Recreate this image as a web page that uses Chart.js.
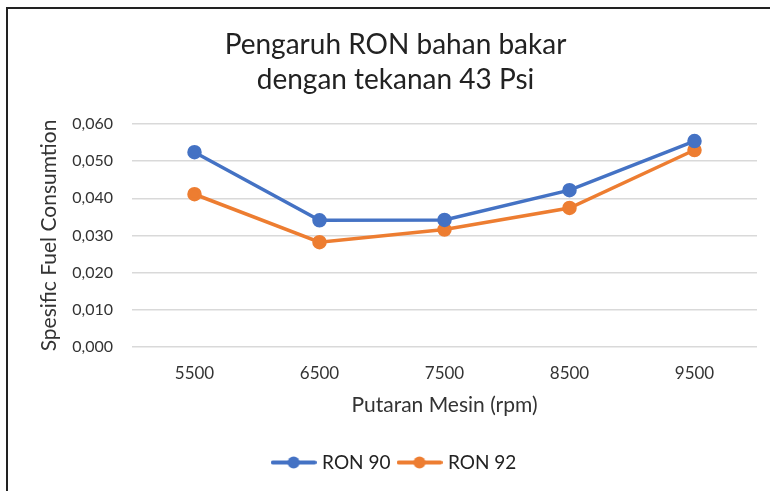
<!DOCTYPE html>
<html lang="id">
<head>
    <meta charset="UTF-8">
    <title>Pengaruh RON bahan bakar</title>
    <style>
        html, body { margin: 0; padding: 0; background: #fff; overflow: hidden; }
        .wrap { position: relative; width: 770px; height: 491px; }
        .frame { position: absolute; left: 6px; top: 7px; width: 800px; height: 600px; border: 2px solid #222; box-sizing: border-box; }
        #sfcChart { position: absolute; left: 0; top: 0; }
    </style>
</head>
<body>
    <div class="wrap">
        <div class="frame"></div>
        <canvas id="sfcChart" width="770" height="491"></canvas>
    </div>

    <script src="https://cdn.jsdelivr.net/npm/chart.js"></script>
    <script>
        const rpm = ['5500', '6500', '7500', '8500', '9500'];
        const ron90 = [0.0524, 0.0341, 0.0342, 0.0422, 0.0554];
        const ron92 = [0.0411, 0.0282, 0.0316, 0.0374, 0.0530];
        const yTicks = [0, 0.01, 0.02, 0.03, 0.04, 0.05, 0.06];

        const blue = '#4472C4';
        const orange = '#ED7D31';
        const fontFamily = 'Lato, "Open Sans", sans-serif';

        // little line-with-marker icon for the legend, like the spreadsheet one
        function legendIcon(color) {
            const c = document.createElement('canvas');
            c.width = 46; c.height = 13;
            const g = c.getContext('2d');
            g.strokeStyle = color; g.lineWidth = 4; g.lineCap = 'round';
            g.beginPath(); g.moveTo(2, 6.5); g.lineTo(44, 6.5); g.stroke();
            g.fillStyle = color;
            g.beginPath(); g.arc(23, 6.5, 6, 0, Math.PI * 2); g.fill();
            return c;
        }

        const chart = new Chart(document.getElementById('sfcChart'), {
            type: 'line',
            data: {
                labels: rpm,
                datasets: [
                    { label: 'RON 90', data: ron90, borderColor: blue, backgroundColor: blue, borderWidth: 3.5, pointRadius: 5.5, pointHoverRadius: 5.5, pointStyle: 'circle', tension: 0 },
                    { label: 'RON 92', data: ron92, borderColor: orange, backgroundColor: orange, borderWidth: 3.5, pointRadius: 5.5, pointHoverRadius: 5.5, pointStyle: 'circle', tension: 0 }
                ]
            },
            options: {
                responsive: false,
                animation: false,
                layout: { padding: { left: 21, right: 0, top: 10, bottom: 9 } },
                plugins: {
                    title: {
                        display: true,
                        text: ['Pengaruh RON bahan bakar', 'dengan tekanan 43 Psi'],
                        color: '#222',
                        font: { family: fontFamily, size: 28, weight: 'normal', lineHeight: 1.25 },
                        padding: { top: 17, bottom: 27 }
                    },
                    legend: {
                        position: 'bottom',
                        labels: {
                            usePointStyle: true,
                            pointStyleWidth: 38,
                            color: '#222',
                            font: { family: fontFamily, size: 19 },
                            padding: 10,
                            generateLabels: function(ch) {
                                return ch.data.datasets.map((ds, i) => ({
                                    text: ds.label,
                                    pointStyle: legendIcon(ds.borderColor),
                                    fillStyle: ds.borderColor,
                                    strokeStyle: ds.borderColor,
                                    lineWidth: 0,
                                    datasetIndex: i,
                                    hidden: !ch.isDatasetVisible(i),
                                    fontColor: '#222'
                                }));
                            }
                        }
                    },
                    tooltip: { enabled: false }
                },
                scales: {
                    x: {
                        offset: true,
                        grid: { display: false, drawTicks: false },
                        border: { display: false },
                        ticks: { color: '#333', font: { family: fontFamily, size: 17 }, padding: 16, maxRotation: 0 },
                        title: {
                            display: true,
                            text: 'Putaran Mesin (rpm)',
                            color: '#333',
                            font: { family: fontFamily, size: 21 },
                            padding: { top: 4, bottom: 25 }
                        },
                        afterFit: function(scale) { scale.height = 96; }
                    },
                    y: {
                        min: 0,
                        max: 0.06,
                        afterBuildTicks: function(scale) { scale.ticks = yTicks.map(v => ({ value: v })); },
                        grid: { color: '#d9d9d9', lineWidth: 1.5, drawTicks: false },
                        border: { display: false },
                        ticks: {
                            color: '#333',
                            font: { family: fontFamily, size: 16 },
                            padding: 19,
                            callback: function(v) { return v.toFixed(3).replace('.', ','); }
                        },
                        title: {
                            display: true,
                            text: 'Spesific Fuel Consumtion',
                            color: '#333',
                            font: { family: fontFamily, size: 21 },
                            padding: { top: 16, bottom: 0 }
                        },
                        afterFit: function(scale) { scale.width = 111; }
                    },
                    // empty strip on the right so the plot stops short of the edge
                    spacer: {
                        type: 'linear',
                        position: 'right',
                        grid: { display: false, drawTicks: false },
                        border: { display: false },
                        ticks: { display: false },
                        afterFit: function(scale) { scale.width = 13; }
                    }
                }
            }
        });
    </script>
</body>
</html>
